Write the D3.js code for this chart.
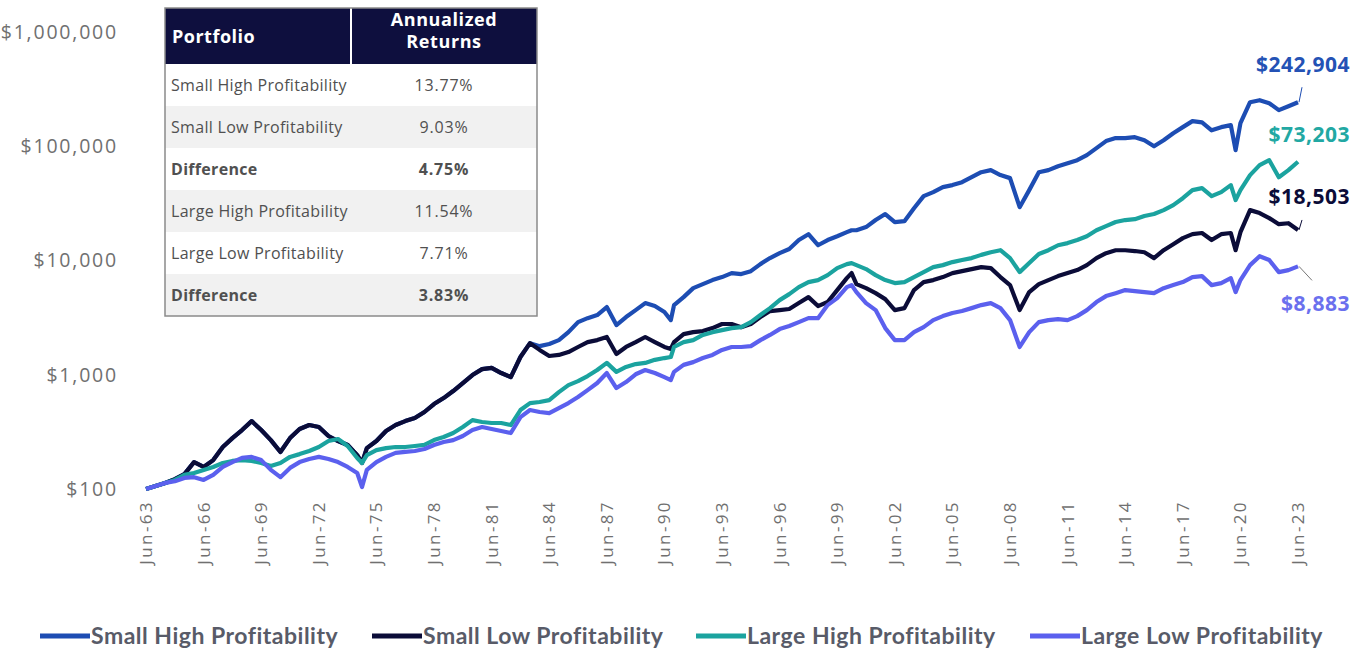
<!DOCTYPE html>
<html>
<head>
<meta charset="utf-8">
<script src="https://cdn.jsdelivr.net/npm/d3@7"></script>
<style>
body{margin:0;background:#fff}
svg text{font-family:'Open Sans',sans-serif}
</style>
</head>
<body>
<div id="chart"></div>
<script>
var dates = [
  '1963-06','1963-12','1964-06','1964-12','1965-06','1965-12','1966-06','1966-12','1967-06','1967-12',
  '1968-06','1968-12','1969-06','1969-12','1970-06','1970-12','1971-06','1971-12','1972-06','1972-12',
  '1973-06','1973-12','1974-06','1974-09','1974-12','1975-06','1975-12','1976-06','1976-12','1977-06',
  '1977-12','1978-06','1978-12','1979-06','1979-12','1980-06','1980-12','1981-06','1981-12','1982-06',
  '1982-12','1983-06','1983-12','1984-06','1984-12','1985-06','1985-12','1986-06','1986-12','1987-06',
  '1987-12','1988-06','1988-12','1989-06','1989-12','1990-06','1990-10','1990-12','1991-06','1991-12',
  '1992-06','1992-12','1993-06','1993-12','1994-06','1994-12','1995-06','1995-12','1996-06','1996-12',
  '1997-06','1997-12','1998-06','1998-12','1999-06','1999-12','2000-03','2000-06','2000-12','2001-06',
  '2001-12','2002-06','2002-12','2003-06','2003-12','2004-06','2004-12','2005-06','2005-12','2006-06',
  '2006-12','2007-06','2007-12','2008-06','2008-12','2009-06','2009-12','2010-06','2010-12','2011-06',
  '2011-12','2012-06','2012-12','2013-06','2013-12','2014-06','2014-12','2015-06','2015-12','2016-06',
  '2016-12','2017-06','2017-12','2018-06','2018-12','2019-06','2019-12','2020-03','2020-06','2020-12',
  '2021-06','2021-12','2022-06','2022-12','2023-06'
]

var smallHigh = [
  100,106,113,122,135,172,156,179,233,279,
  328,393,328,268,211,279,335,363,349,291,
  263,243,198,169,228,263,322,363,393,418,
  472,554,625,720,846,994,1120,1150,1035,954,
  1430,1890,1780,1860,2010,2360,2890,3130,3330,3910,
  2720,3200,3680,4240,3990,3540,3010,4070,4780,5730,
  6210,6740,7160,7760,7600,8070,9300,10500,11600,12600,
  15100,17000,13600,15100,16300,17700,18400,18400,19600,22600,
  25500,21700,22100,28700,36600,39700,43900,45700,48500,53600,
  59300,61800,55900,52600,29300,41300,59300,61800,66900,71100,
  75500,83600,96200,111000,118000,118000,120000,113000,100000,113000,
  130000,147000,166000,162000,138000,147000,153000,92400,159000,243000,
  253000,238000,207000,224000,242904
]

var smallLow = [
  100,106,113,122,135,172,156,179,233,279,
  328,393,328,268,211,279,335,363,349,291,
  263,243,198,169,228,263,322,363,393,418,
  472,554,625,720,846,994,1120,1150,1035,954,
  1430,1890,1650,1460,1490,1580,1750,1930,2010,2140,
  1520,1750,1930,2140,1930,1750,1680,1930,2270,2360,
  2410,2560,2780,2780,2610,2780,3200,3610,3680,3760,
  4240,4780,3990,4330,5510,7010,7760,6210,5730,5180,
  4590,3680,3830,5510,6470,6740,7160,7760,8070,8410,
  8750,8580,7160,6090,3680,5290,6210,6740,7300,7760,
  8240,9110,10500,11600,12300,12300,12100,11800,10500,12300,
  13900,15700,17000,17400,15100,17000,17400,12300,17700,27600,
  26000,23500,20800,21200,18503
]

var largeHigh = [
  100,106,113,120,133,138,147,156,169,176,
  179,176,169,159,169,191,202,215,233,263,
  274,238,187,169,198,219,228,233,233,238,
  243,268,285,309,349,401,386,378,378,363,
  491,565,577,600,705,812,880,974,1100,1270,
  1060,1170,1240,1270,1350,1400,1430,1750,1930,2010,
  2230,2360,2460,2560,2610,2890,3330,3830,4500,5080,
  5850,6470,6740,7450,8580,9300,9490,9110,8410,7450,
  6740,6340,6470,7160,7910,8750,9110,9680,10100,10500,
  11200,11800,12300,10500,7910,9490,11400,12300,13600,14200,
  15100,16300,18400,20000,21700,22600,23000,24500,25500,27600,
  30500,35100,41300,43000,36600,39700,45700,33800,41300,55900,
  68300,75500,53600,61800,73203
]

var largeLow = [
  100,106,113,117,125,127,120,133,156,172,
  187,191,179,147,127,153,172,183,191,183,
  172,156,138,104,147,172,191,207,211,215,
  224,243,258,268,291,328,349,335,322,309,
  426,491,472,462,511,565,638,734,846,1035,
  765,863,1010,1100,1035,954,898,1060,1220,1290,
  1400,1490,1650,1750,1750,1780,2010,2230,2510,2670,
  2890,3130,3130,4070,4690,5850,6090,5290,4240,3680,
  2560,2010,2010,2360,2610,3010,3260,3470,3610,3830,
  4070,4240,3830,3010,1750,2360,2890,3010,3070,3010,
  3260,3680,4330,4880,5180,5510,5400,5290,5180,5730,
  6090,6470,7160,7300,6090,6340,7010,5290,6740,9110,
  10900,10100,7910,8240,8883
]

var seriesNames = ['Small High Profitability', 'Small Low Profitability', 'Large High Profitability', 'Large Low Profitability']
var yTicks = [100, 1000, 10000, 100000, 1000000]
var xTickYears = [1963,1966,1969,1972,1975,1978,1981,1984,1987,1990,1993,1996,1999,2002,2005,2008,2011,2014,2017,2020,2023]

var tablePortfolios = ['Small High Profitability', 'Small Low Profitability', 'Difference', 'Large High Profitability', 'Large Low Profitability', 'Difference']
var tableReturns = ['13.77%', '9.03%', '4.75%', '11.54%', '7.71%', '3.83%']

var colors = ['#1d4db3', '#0b0c38', '#1ba39f', '#5b60ee']
var labelColors = ['#2452b5', '#0b0c38', '#22a8a3', '#6b70ee']
var labelDy = [-38, -33, -27, 37]

var parse = d3.timeParse('%Y-%m')
var fmtTick = d3.timeFormat('%b-%y')
var series = [smallHigh, smallLow, largeHigh, largeLow].map(function(vals, i){
  return {name: seriesNames[i], color: colors[i], values: vals.map(function(v, j){ return {date: parse(dates[j]), value: v} })}
})

var W = 1362, H = 652
var svg = d3.select('#chart').append('svg').attr('width', W).attr('height', H)

var x = d3.scaleTime().domain([new Date(1963, 5, 1), new Date(2023, 5, 1)]).range([146, 1298])
var y = d3.scaleLog().domain([100, 1000000]).range([489, 32])

// y axis labels
svg.append('g').selectAll('text').data(yTicks).join('text')
  .attr('x', 118).attr('y', function(d){ return y(d) })
  .attr('dy', '0.35em').attr('text-anchor', 'end')
  .attr('font-size', 19.5).attr('fill', '#707070')
  .style('letter-spacing', '1.8px')
  .text(function(d){ return '$' + d3.format(',')(d) })

// x axis labels, rotated
svg.append('g').selectAll('text').data(xTickYears).join('text')
  .attr('transform', function(d){ return 'translate(' + (x(new Date(d, 5, 1)) + 6) + ',500) rotate(-90)' })
  .attr('text-anchor', 'end')
  .attr('font-size', 17).attr('fill', '#707070')
  .style('letter-spacing', '2.4px')
  .text(function(d){ return fmtTick(new Date(d, 5, 1)) })

var line = d3.line().x(function(d){ return x(d.date) }).y(function(d){ return y(d.value) })

svg.append('g').selectAll('path').data(series).join('path')
  .attr('d', function(d){ return line(d.values) })
  .attr('fill', 'none').attr('stroke', function(d){ return d.color })
  .attr('stroke-width', 4.2).attr('stroke-linejoin', 'round')

// end labels with small leader lines
series.forEach(function(s, i){
  var last = s.values[s.values.length - 1]
  var ex = x(last.date), ey = y(last.value)
  if (i != 2){
    var lx = i == 3 ? ex + 14 : ex + 4
    var ly = i == 3 ? ey + 14 : ey - (i == 0 ? 15 : 10)
    svg.append('line').attr('x1', ex + 1).attr('y1', ey).attr('x2', lx).attr('y2', ly)
      .attr('stroke', i == 3 ? '#777' : s.color).attr('stroke-width', 1)
  }
  svg.append('text')
    .attr('x', 1350).attr('y', ey + labelDy[i]).attr('dy', '0.35em')
    .attr('text-anchor', 'end').attr('font-size', 21).attr('font-weight', 700)
    .attr('fill', labelColors[i]).style('letter-spacing', '0.5px')
    .text('$' + d3.format(',')(last.value))
})

// table
var tb = svg.append('g').attr('transform', 'translate(165,8)')
var tw = 372, colX = 186, headH = 56, rowH = 42
tb.append('rect').attr('width', tw).attr('height', headH + rowH * 6).attr('fill', '#fff')
tb.append('rect').attr('width', tw).attr('height', headH).attr('fill', '#0e0f3e')
tb.append('line').attr('x1', colX).attr('x2', colX).attr('y1', 0).attr('y2', headH).attr('stroke', '#fff').attr('stroke-width', 2)
tb.append('text').attr('x', 7).attr('y', headH / 2 + 1).attr('dy', '0.35em')
  .attr('font-size', 18).attr('font-weight', 700).attr('fill', '#fff')
  .style('letter-spacing', '0.5px').text('Portfolio')
tb.append('text').attr('x', 279).attr('y', 18).attr('dy', '0.35em').attr('text-anchor', 'middle')
  .attr('font-size', 18).attr('font-weight', 700).attr('fill', '#fff')
  .style('letter-spacing', '0.6px')
  .selectAll('tspan').data(['Annualized', 'Returns']).join('tspan')
  .attr('x', 279).attr('dy', function(d, i){ return i ? 22 : 0 }).text(function(d){ return d })

var rows = tb.selectAll('g.row').data(tablePortfolios).join('g')
  .attr('transform', function(d, i){ return 'translate(0,' + (headH + i * rowH) + ')' })
rows.append('rect').attr('width', tw).attr('height', rowH)
  .attr('fill', function(d, i){ return i % 2 ? '#f1f1f1' : '#fff' })
rows.append('text').attr('x', 6).attr('y', rowH / 2).attr('dy', '0.35em')
  .attr('font-size', 16).attr('fill', '#505050').style('letter-spacing', '0.3px')
  .attr('font-weight', function(d){ return d == 'Difference' ? 700 : 400 })
  .text(function(d){ return d })
rows.append('text').attr('x', 279).attr('y', rowH / 2).attr('dy', '0.35em')
  .attr('text-anchor', 'middle').attr('font-size', 16).attr('fill', '#505050')
  .style('letter-spacing', '0.8px')
  .attr('font-weight', function(d){ return d == 'Difference' ? 700 : 400 })
  .text(function(d, i){ return tableReturns[i] })
tb.append('rect').attr('width', tw).attr('height', headH + rowH * 6)
  .attr('fill', 'none').attr('stroke', '#8a8a8a').attr('stroke-width', 1.5)

// legend
var legX = [40, 372, 696, 1030]
var leg = svg.append('g').selectAll('g').data(series).join('g')
  .attr('transform', function(d, i){ return 'translate(' + legX[i] + ',636)' })
leg.append('line').attr('x1', 0).attr('x2', 50).attr('stroke', function(d){ return d.color }).attr('stroke-width', 5)
leg.append('text').attr('x', 51).attr('dy', '0.35em')
  .attr('font-size', 23).attr('font-weight', 700).attr('fill', '#585b68')
  .style('font-family', 'Lato, sans-serif').style('letter-spacing', '0.5px')
  .text(function(d){ return d.name })
</script>
</body>
</html>
